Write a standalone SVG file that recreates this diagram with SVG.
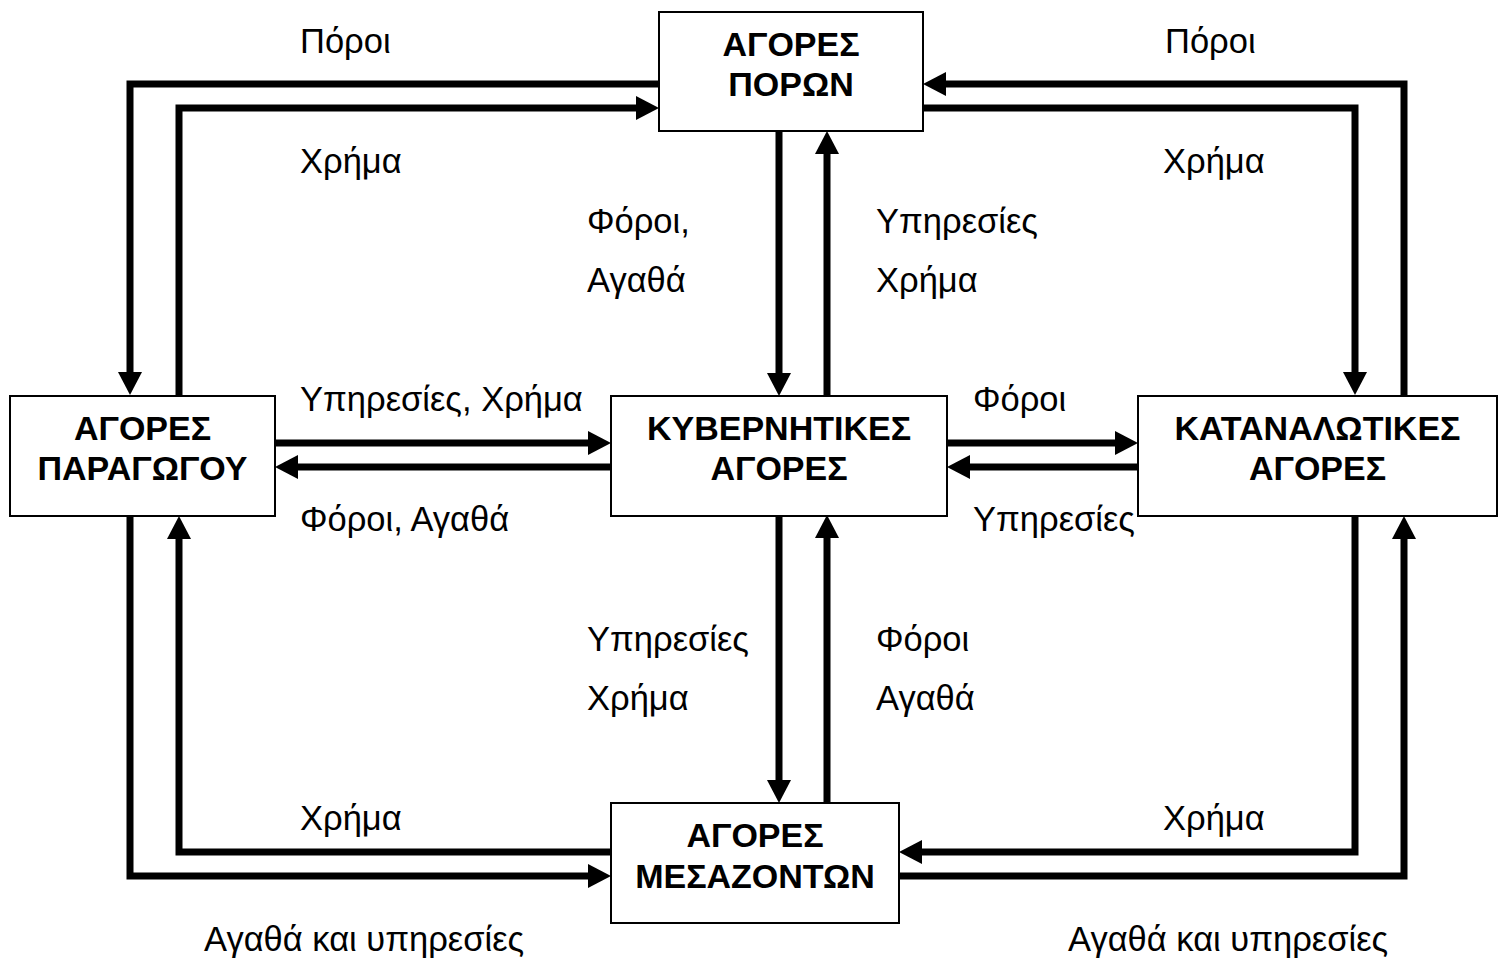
<svg xmlns="http://www.w3.org/2000/svg" width="1507" height="960" viewBox="0 0 1507 960">
  <style>
    .box { fill: #ffffff; stroke: #000000; stroke-width: 2; }
    .title { font-family: "Liberation Sans", Arial, sans-serif; font-weight: bold; font-size: 34px; text-anchor: middle; fill: #000; }
    .lbl { font-family: "Liberation Sans", Arial, sans-serif; font-size: 34.5px; fill: #000; }
    .flow { fill: none; stroke: #000000; stroke-width: 7; stroke-linejoin: miter; stroke-linecap: butt; marker-end: url(#head); }
  </style>
  <defs>
    <marker id="head" markerUnits="userSpaceOnUse" markerWidth="23" markerHeight="24" refX="0" refY="12" orient="auto">
      <path d="M0,0 L23,12 L0,24 Z" fill="#000000"/>
    </marker>
  </defs>
  <rect width="1507" height="960" fill="#ffffff"/>

  <!-- flows between markets -->
  <g id="connectors">
    <path class="flow" d="M659,84 H130 V372"/>
    <path class="flow" d="M179,395 V108 H636"/>
    <path class="flow" d="M275,443 H588"/>
    <path class="flow" d="M611,467 H298"/>
    <path class="flow" d="M947,443 H1115"/>
    <path class="flow" d="M1138,467 H970"/>
    <path class="flow" d="M779,131 V373"/>
    <path class="flow" d="M827,395 V154"/>
    <path class="flow" d="M779,515 V780"/>
    <path class="flow" d="M827,803 V538"/>
    <path class="flow" d="M1404,395 V84 H946"/>
    <path class="flow" d="M923,108 H1355 V372"/>
    <path class="flow" d="M130,516 V876 H588"/>
    <path class="flow" d="M611,852 H179 V539"/>
    <path class="flow" d="M1355,516 V852 H922"/>
    <path class="flow" d="M899,876 H1404 V539"/>
  </g>

  <g id="node-resources">
    <rect class="box" x="659" y="12" width="264" height="119"/>
    <text class="title" x="791" y="56">ΑΓΟΡΕΣ</text>
    <text class="title" x="791" y="96">ΠΟΡΩΝ</text>
  </g>
  <g id="node-producers">
    <rect class="box" x="10" y="396" width="265" height="120"/>
    <text class="title" x="142.5" y="440">ΑΓΟΡΕΣ</text>
    <text class="title" x="142.5" y="480">ΠΑΡΑΓΩΓΟΥ</text>
  </g>
  <g id="node-government">
    <rect class="box" x="611" y="396" width="336" height="120"/>
    <text class="title" x="779" y="440">ΚΥΒΕΡΝΗΤΙΚΕΣ</text>
    <text class="title" x="779" y="480">ΑΓΟΡΕΣ</text>
  </g>
  <g id="node-consumers">
    <rect class="box" x="1138" y="396" width="359" height="120"/>
    <text class="title" x="1317.5" y="440">ΚΑΤΑΝΑΛΩΤΙΚΕΣ</text>
    <text class="title" x="1317.5" y="480">ΑΓΟΡΕΣ</text>
  </g>
  <g id="node-intermediaries">
    <rect class="box" x="611" y="803" width="288" height="120"/>
    <text class="title" x="755" y="847">ΑΓΟΡΕΣ</text>
    <text class="title" x="755" y="888">ΜΕΣΑΖΟΝΤΩΝ</text>
  </g>

  <g id="labels">
    <text class="lbl" x="300" y="53">Πόροι</text>
    <text class="lbl" x="1165" y="53">Πόροι</text>
    <text class="lbl" x="300" y="173">Χρήμα</text>
    <text class="lbl" x="1163" y="173">Χρήμα</text>
    <text class="lbl" x="587" y="233">Φόροι,</text>
    <text class="lbl" x="587" y="292">Αγαθά</text>
    <text class="lbl" x="876" y="233">Υπηρεσίες</text>
    <text class="lbl" x="876" y="292">Χρήμα</text>
    <text class="lbl" x="300" y="411">Υπηρεσίες, Χρήμα</text>
    <text class="lbl" x="300" y="531">Φόροι, Αγαθά</text>
    <text class="lbl" x="973" y="411">Φόροι</text>
    <text class="lbl" x="973" y="531">Υπηρεσίες</text>
    <text class="lbl" x="587" y="651">Υπηρεσίες</text>
    <text class="lbl" x="587" y="710">Χρήμα</text>
    <text class="lbl" x="876" y="651">Φόροι</text>
    <text class="lbl" x="876" y="710">Αγαθά</text>
    <text class="lbl" x="300" y="830">Χρήμα</text>
    <text class="lbl" x="1163" y="830">Χρήμα</text>
    <text class="lbl" x="204" y="951">Αγαθά και υπηρεσίες</text>
    <text class="lbl" x="1068" y="951">Αγαθά και υπηρεσίες</text>
  </g>
</svg>
